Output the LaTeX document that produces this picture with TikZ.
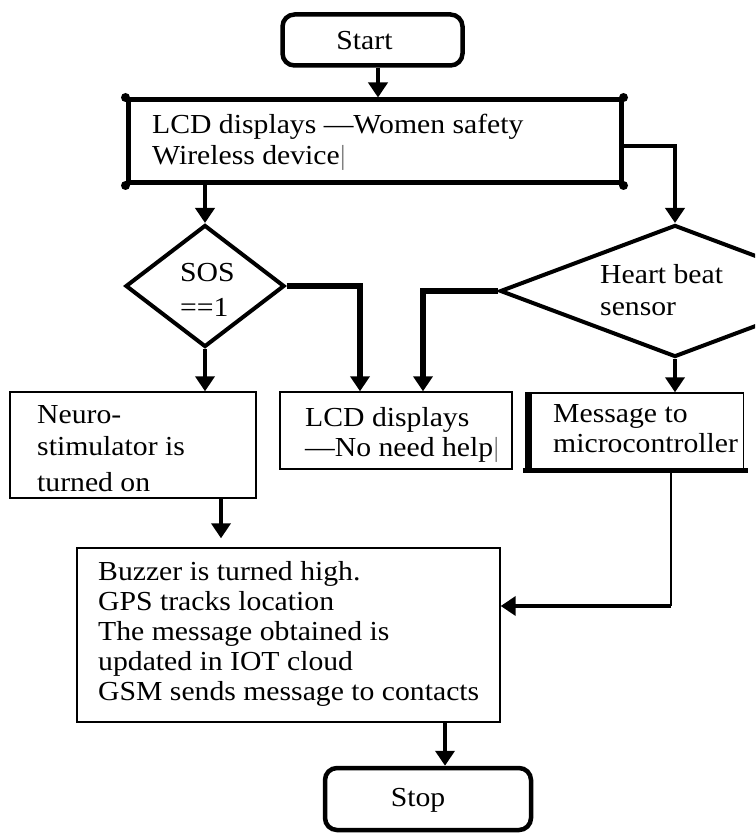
\documentclass[tikz,border=0pt]{standalone}
\usepackage{fontspec}
\setmainfont{Liberation Serif}[FakeStretch=1.08]
\usetikzlibrary{shapes.geometric,arrows.meta,calc}
\begin{document}
\begin{tikzpicture}[x=1pt,y=-1pt,
  every node/.style={font=\fontsize{27.5pt}{30pt}\selectfont},
  term/.style={draw, line width=4.5pt, rounded corners=12pt, inner sep=0pt},
  thinbox/.style={draw, line width=1.4pt, inner sep=0pt},
  dec/.style={draw, diamond, line width=4pt, inner sep=0pt},
  txt/.style={inner sep=0pt, align=left, anchor=north west},
  lbl/.style={inner sep=0pt, anchor=base},
  arr/.style={line width=4pt, -{Triangle[length=15pt,width=19pt]}},
  ]
\clip (0,0) rectangle (755,834);
\fill[white] (0,0) rectangle (755,834);

% column / row helpers
\coordinate (cx378) at (378,0);
\coordinate (cx360) at (360,0);
\coordinate (cx423) at (423,0);
\coordinate (cx221) at (221,0);
\coordinate (cx445) at (445,0);
\coordinate (cy146) at (0,146);
\coordinate (bend) at (671,606);

% Start
\node[term, minimum width=180pt, minimum height=51pt] (start) at (372.5,40) {};
\node[lbl] (startt) at (364.5,50) {Start};

% LCD 1
\node[draw, line width=5pt, minimum width=493pt, minimum height=83pt, inner sep=0pt] (lcd1) at (374.5,141.5) {};
\foreach \a in {north west,north east,south west,south east}
  \fill (lcd1.\a) circle (4.5pt);
\node[txt] (lcd1t) at (152,113.5) {LCD displays —Women safety\\[1pt]Wireless device{\color{gray}|}};

% decisions
\node[dec, minimum width=159pt, minimum height=122pt] (sos) at (205,286) {};
\node[txt] (sost) at (180,263) {SOS\\[5pt]==1};
\node[dec, minimum width=350pt, minimum height=132pt] (hb) at (675,291) {};
\node[txt] (hbt) at (600,264.5) {Heart beat\\[2pt]sensor};

% second row
\node[thinbox, minimum width=246pt, minimum height=106pt] (neuro) at (133,445) {};
\node[txt] (neurot) at (37,405.5) {Neuro-\\[2pt]stimulator is\\[6pt]turned on};
\node[thinbox, minimum width=232pt, minimum height=77pt] (lcd2) at (396,430.5) {};
\node[txt] (lcd2t) at (305,407.5) {LCD displays\\—No need help{\color{gray}|}};
\node[thinbox, minimum width=214pt, minimum height=77pt] (msg) at (636.5,431.5) {};
\draw[line width=7pt] (msg.south west) -- (msg.north west);
\draw[line width=5pt] ($(msg.south west)+(-6,0)$) -- ($(msg.south east)+(4,0)$);
\node[txt] (msgt) at (553,404.5) {Message to\\microcontroller};

% Buzzer
\node[thinbox, minimum width=423pt, minimum height=174pt] (buzz) at (288.5,635) {};
\node[txt] (buzzt) at (98,561.5) {Buzzer is turned high.\\GPS tracks location\\The message obtained is\\updated in IOT cloud\\GSM sends message to contacts};

% Stop
\node[term, minimum width=206pt, minimum height=62pt] (stop) at (428,799) {};
\node[lbl] (stopt) at (418,806) {Stop};

% connectors
\draw[arr] (start.south -| cx378) -- (lcd1.north -| cx378);
\draw[arr] (lcd1.south -| sos.north) -- (sos.north);
\draw[arr] (lcd1.east |- cy146) -| (hb.north);
\draw[arr, line width=5.5pt] (sos.east) -| (lcd2.north -| cx360);
\draw[arr, line width=5.5pt] (hb.west) -| (lcd2.north -| cx423);
\draw[arr] (sos.south) -- (sos.south |- neuro.north);
\draw[arr] (hb.south) -- (hb.south |- msg.north);
\draw[arr, shorten >=9pt] (neuro.south -| cx221) -- (buzz.north -| cx221);
\draw[line width=1.4pt] (msg.south -| bend) -- (bend);
\draw[arr] (bend) -- (buzz.east |- bend);
\draw[arr] (buzz.south -| cx445) -- (stop.north -| cx445);
\end{tikzpicture}
\end{document}
